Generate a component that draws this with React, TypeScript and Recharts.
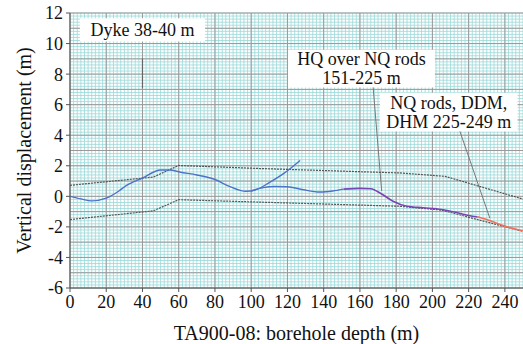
import { LineChart, Line, XAxis, YAxis, CartesianGrid, ReferenceLine, ReferenceArea, Label } from 'recharts';

const serif = 'Liberation Serif, Times New Roman, DejaVu Serif, serif';

// tick labels
const xTicks = [0, 20, 40, 60, 80, 100, 120, 140, 160, 180, 200, 220, 240];
const yTicks = [-6, -4, -2, 0, 2, 4, 6, 8, 10, 12];

// graph-paper grid spacing
const steps = (from: number, to: number, step: number) => {
    const out: number[] = [];
    for (let v = from; v <= to + 1e-9; v += step) out.push(Math.round(v * 100) / 100);
    return out;
};
const minorX = steps(0, 250, 2);
const minorY = steps(-6, 12, 0.2);
const majorY = steps(-6, 12, 1);

// profile from collar to 127 m
const mainDepth = [0, 6, 12, 20, 27, 31, 40, 50, 55, 61, 70, 80, 88, 97, 103, 110, 118, 127];
const mainDisp = [0, -0.17, -0.3, -0.12, 0.35, 0.7, 1.2, 1.72, 1.72, 1.58, 1.4, 1.1, 0.65, 0.33, 0.45, 0.9, 1.5, 2.35];

// second profile 100-151 m
const lowDepth = [100, 106, 113, 120, 128, 138, 145, 151];
const lowDisp = [0.35, 0.55, 0.64, 0.63, 0.45, 0.28, 0.35, 0.47];

// HQ over NQ rods 151-225 m
const hqDepth = [151, 160, 166, 172, 178, 186, 195, 205, 212, 220, 225];
const hqDisp = [0.47, 0.52, 0.5, 0.15, -0.3, -0.65, -0.75, -0.86, -1.03, -1.25, -1.35];

// NQ rods 225-249 m
const nqDepth = [225, 232, 240, 250];
const nqDisp = [-1.33, -1.6, -1.95, -2.25];

// envelope lines
const upperDepth = [0, 46, 60, 105, 182, 207, 250];
const upperDisp = [0.72, 1.26, 2.02, 1.82, 1.53, 1.31, -0.18];
const lowerDepth = [0, 46, 60, 105, 182, 205, 250];
const lowerDisp = [-1.52, -0.95, -0.22, -0.38, -0.65, -0.9, -2.3];

const pts = (xs: number[], ys: number[]) => xs.map((x, i) => ({ x, y: ys[i] }));

const boxText = (lines: string[]) => (props: any) => {
    const { x, y, width, height } = props.viewBox;
    const cx = x + width / 2;
    const lh = 19;
    const top = y + height / 2 - ((lines.length - 1) * lh) / 2;
    return (
        <g>
            {lines.map((l, i) => (
                <text key={i} x={cx} y={top + i * lh + 6} textAnchor="middle" fontFamily={serif} fontSize={18} fill="#111">{l}</text>
            ))}
        </g>
    );
};

const yTitle = (props: any) => {
    const { x, y, height } = props.viewBox;
    const cx = x + 24;
    const cy = y + height / 2;
    return (
        <text x={cx} y={cy} transform={`rotate(-90, ${cx}, ${cy})`} textAnchor="middle" dominantBaseline="central" fontFamily={serif} fontSize={20} fill="#111">
            Vertical displacement (m)
        </text>
    );
};

export default function App() {
    const tick = { fill: '#111', fontSize: 18, fontFamily: serif };
    return (
        <div style={{ position: 'absolute', left: 0, top: 0, background: '#fff', fontFamily: serif }}>
            <LineChart width={523} height={344} margin={{ top: 13, right: 0, bottom: 0, left: 0 }}>
                <CartesianGrid horizontalValues={minorY} verticalValues={minorX} stroke="#99d8d8" strokeWidth={0.8} />
                <CartesianGrid horizontalValues={majorY} verticalValues={xTicks} stroke="#9a9a9a" strokeWidth={1} />
                <XAxis
                    type="number"
                    dataKey="x"
                    domain={[0, 250]}
                    ticks={xTicks}
                    interval={0}
                    allowDataOverflow
                    height={56}
                    stroke="#555"
                    tickSize={4}
                    tickMargin={3}
                    tick={tick}
                >
                    <Label value="TA900-08: borehole depth (m)" position="insideBottom" offset={4} fontFamily={serif} fontSize={20} fill="#111" />
                </XAxis>
                <YAxis
                    type="number"
                    domain={[-6, 12]}
                    ticks={yTicks}
                    interval={0}
                    allowDataOverflow
                    width={70}
                    stroke="#555"
                    tickSize={4}
                    tickMargin={3}
                    tick={tick}
                    label={yTitle}
                />
                <ReferenceArea x1={5.5} x2={74.5} y1={10.14} y2={11.65} fill="#fff" fillOpacity={1} stroke="none" label={boxText(['Dyke 38-40 m'])} />
                <ReferenceArea x1={120.3} x2={201.4} y1={7.13} y2={9.6} fill="#fff" fillOpacity={1} stroke="none" label={boxText(['HQ over NQ rods', '151-225 m'])} />
                <ReferenceArea x1={171} x2={247} y1={4.25} y2={6.78} fill="#fff" fillOpacity={1} stroke="none" label={boxText(['NQ rods, DDM,', 'DHM 225-249 m'])} />
                <ReferenceLine segment={[{ x: 40, y: 9.03 }, { x: 40, y: 7.07 }]} stroke="#666" strokeWidth={1.2} />
                <ReferenceLine segment={[{ x: 167.3, y: 7.13 }, { x: 172, y: 0.35 }]} stroke="#777" strokeWidth={1} />
                <ReferenceLine segment={[{ x: 215.2, y: 4.25 }, { x: 231.7, y: -1.43 }]} stroke="#777" strokeWidth={1} />
                <Line data={pts(upperDepth, upperDisp)} dataKey="y" type="linear" stroke="#555" strokeWidth={1.2} strokeDasharray="2 1" dot={false} isAnimationActive={false} />
                <Line data={pts(lowerDepth, lowerDisp)} dataKey="y" type="linear" stroke="#555" strokeWidth={1.2} strokeDasharray="2 1" dot={false} isAnimationActive={false} />
                <Line data={pts(mainDepth, mainDisp)} dataKey="y" type="monotone" stroke="#4d72c8" strokeWidth={1.4} dot={false} isAnimationActive={false} />
                <Line data={pts(lowDepth, lowDisp)} dataKey="y" type="monotone" stroke="#4d72c8" strokeWidth={1.4} dot={false} isAnimationActive={false} />
                <Line data={pts(hqDepth, hqDisp)} dataKey="y" type="monotone" stroke="#7a45b2" strokeWidth={1.6} dot={false} isAnimationActive={false} />
                <Line data={pts(nqDepth, nqDisp)} dataKey="y" type="monotone" stroke="#f2705c" strokeWidth={1.6} dot={false} isAnimationActive={false} />
            </LineChart>
        </div>
    );
}
